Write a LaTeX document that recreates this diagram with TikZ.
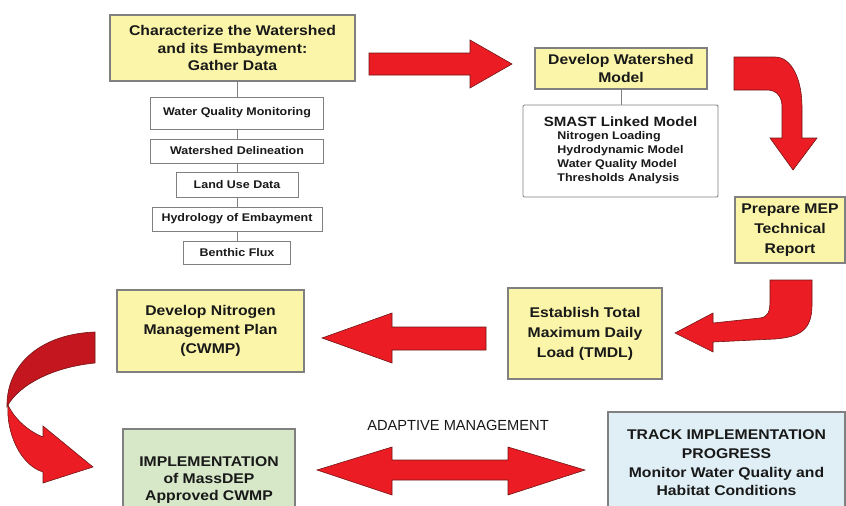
\documentclass[tikz,border=0pt]{standalone}
\usepackage{fontspec}
\setmainfont{Liberation Sans}[FakeStretch=1.12]
\newfontfamily\plainfont{Liberation Sans}
\definecolor{boxyellow}{RGB}{250,245,168}
\definecolor{boxgreen}{RGB}{214,232,200}
\definecolor{boxblue}{RGB}{224,239,246}
\definecolor{boxgray}{RGB}{128,128,128}
\definecolor{arrowred}{RGB}{236,28,36}
\definecolor{arrowdark}{RGB}{196,22,30}
\definecolor{arrowedge}{RGB}{110,20,20}
\definecolor{textblack}{RGB}{25,25,25}

\tikzset{
  stepbox/.style={draw=boxgray, line width=0.9pt, fill=boxyellow, align=center, text=textblack,
    font=\bfseries\fontsize{12}{16}\selectfont, inner sep=2pt},
  databox/.style={draw=boxgray, line width=0.8pt, fill=white, align=center, text=textblack,
    font=\bfseries\fontsize{9.5}{11}\selectfont, inner sep=1pt},
  redarrow/.style={fill=arrowred, draw=arrowedge, line width=0.5pt, line join=miter},
  link/.style={draw=boxgray, line width=0.8pt},
}

\begin{document}
\begin{tikzpicture}[x=0.03cm, y=-0.03cm]
\useasboundingbox (0,0) rectangle (846,505);
\clip (0,0) rectangle (846,505);

% Gather data
\node[stepbox, minimum width=7.35cm, minimum height=1.98cm, font=\bfseries\fontsize{12}{15}\selectfont]
  (char) at (232.5,48) {Characterize the Watershed\\and its Embayment:\\Gather Data};
\node[databox, minimum width=5.19cm, minimum height=0.96cm] (wq) at (237,113) {Water Quality Monitoring};
\node[databox, minimum width=5.19cm, minimum height=0.72cm] (wd) at (237,151) {Watershed Delineation};
\node[databox, minimum width=3.66cm, minimum height=0.75cm] (lu) at (237,184.5) {Land Use Data};
\node[databox, minimum width=5.1cm, minimum height=0.72cm] (hy) at (237,219) {Hydrology of Embayment};
\node[databox, minimum width=3.21cm, minimum height=0.69cm] (bf) at (237,252.5) {Benthic Flux};
\draw[link] (wq.north |- char.south) -- (wq.north);
\draw[link] (wq) -- (wd);
\draw[link] (wd) -- (lu);
\draw[link] (lu) -- (hy);
\draw[link] (hy) -- (bf);

% Model
\node[stepbox, minimum width=5.16cm, minimum height=1.23cm, font=\bfseries\fontsize{12}{15}\selectfont]
  (model) at (621,68.5) {Develop Watershed\\Model};
\node[databox, minimum width=5.85cm, minimum height=2.76cm, rounded corners=1pt, font=\bfseries\fontsize{9.5}{12}\selectfont]
  (smast) at (620.5,151) {\begin{tabular}{@{}c@{}}{\fontsize{11.5}{14}\selectfont SMAST Linked Model}\\[-1pt]
    \begin{tabular}{@{}l@{}}Nitrogen Loading\\Hydrodynamic Model\\Water Quality Model\\Thresholds Analysis\end{tabular}\end{tabular}};
\draw[link] (model.south) -- (model.south |- smast.north);

% Report, TMDL and plan
\node[stepbox, minimum width=3.3cm, minimum height=1.98cm, font=\bfseries\fontsize{12}{17}\selectfont]
  (report) at (790,230) {Prepare MEP\\Technical\\Report};
\node[stepbox, minimum width=4.62cm, minimum height=2.73cm, font=\bfseries\fontsize{12}{17}\selectfont]
  (tmdl) at (585,333.5) {Establish Total\\Maximum Daily\\Load (TMDL)};
\node[stepbox, minimum width=5.61cm, minimum height=2.46cm]
  (plan) at (210.5,331) {Develop Nitrogen\\Management Plan\\(CWMP)};

% Implementation and tracking
\node[stepbox, fill=boxgreen, minimum width=5.16cm, minimum height=3.06cm, font=\bfseries\fontsize{12}{14.5}\selectfont]
  (impl) at (209,480) {IMPLEMENTATION\\of MassDEP\\Approved CWMP};
\node[stepbox, fill=boxblue, minimum width=7.11cm, minimum height=3.06cm]
  (track) at (726.5,463) {TRACK IMPLEMENTATION\\PROGRESS\\Monitor Water Quality and\\Habitat Conditions};
\node[text=textblack, font=\plainfont\fontsize{12.5}{14}\selectfont] (adapt) at (458,425) {ADAPTIVE MANAGEMENT};

% Big red arrows
\draw[redarrow] (369,53) -- (470,53) -- (470,40) -- (512,64) -- (470,88) -- (470,75) -- (369,75) -- cycle;
\draw[redarrow] (734,57) -- (775,57) .. controls (792,57) and (802,80) .. (802,107) -- (802,138)
  -- (817,138) -- (793,170) -- (770,138) -- (782,138) -- (782,107)
  .. controls (782,97) and (777,90) .. (767,90) -- (734,90) -- cycle;
\draw[redarrow] (770,280) -- (812,280) -- (812,305) .. controls (812,330) and (800,337) .. (775,339)
  -- (713,342) -- (713,352) -- (675,333) -- (713,313) -- (713,323) -- (760,318)
  .. controls (768,317) and (770,312) .. (770,300) -- cycle;
\draw[redarrow] (486,327) -- (392,327) -- (392,313) -- (322,338) -- (392,363) -- (392,350) -- (486,350) -- cycle;

% Twisted arrow down to implementation
\draw[redarrow, fill=arrowdark] (95,332) .. controls (40,334) and (6,365) .. (7,407)
  .. controls (15,390) and (45,368) .. (95,363) -- cycle;
\draw[redarrow] (8,405) .. controls (6,432) and (20,465) .. (43,472) -- (43,483) -- (93,467)
  -- (43,426) -- (43,437) .. controls (30,432) and (15,420) .. (8,405) -- cycle;

% Adaptive management
\draw[redarrow] (317,470) -- (392,447) -- (392,460) -- (508,460) -- (508,447) -- (585,470)
  -- (508,495) -- (508,480) -- (392,480) -- (392,495) -- cycle;
\end{tikzpicture}
\end{document}
